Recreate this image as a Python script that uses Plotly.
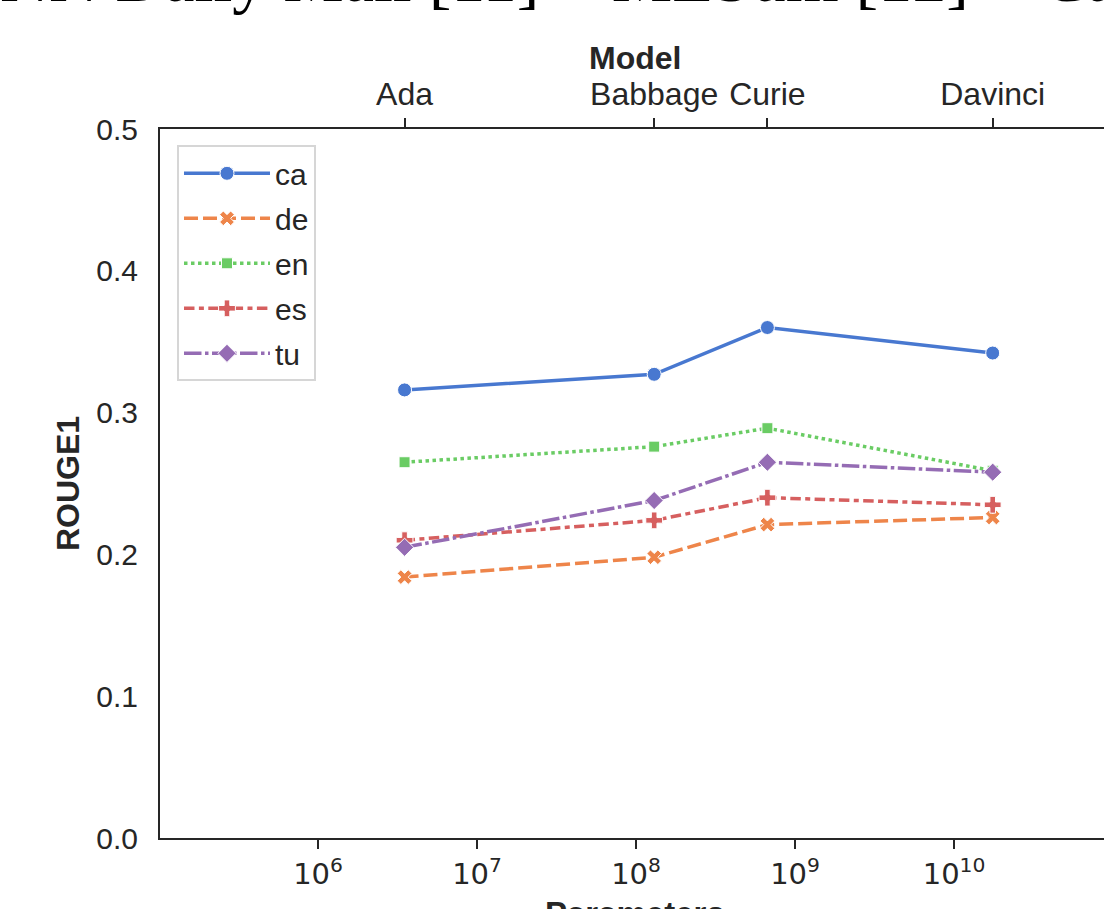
import plotly.graph_objects as go

# ---- data ----
models = ["Ada", "Babbage", "Curie", "Davinci"]
params = [3.5e6, 1.3e8, 6.7e8, 1.75e10]
langs = ["ca", "de", "en", "es", "tu"]
rouge_ca = [0.316, 0.327, 0.360, 0.342]
rouge_de = [0.184, 0.198, 0.221, 0.226]
rouge_en = [0.265, 0.276, 0.289, 0.259]
rouge_es = [0.210, 0.224, 0.240, 0.235]
rouge_tu = [0.205, 0.238, 0.265, 0.258]
series = [rouge_ca, rouge_de, rouge_en, rouge_es, rouge_tu]
xtick_vals = [1e6, 1e7, 1e8, 1e9, 1e10]
xtick_text = ["10<sup>6</sup>", "10<sup>7</sup>", "10<sup>8</sup>", "10<sup>9</sup>", "10<sup>10</sup>"]
ytick_vals = [0.0, 0.1, 0.2, 0.3, 0.4, 0.5]
title_text = "NN Daily Mail [11] + MLSum [12] + Ca"
x_title = "Parameters"
x2_title = "Model"
y_title = "ROUGE1"

# ---- styles ----
colors = ["#4878d0", "#ee854a", "#6acc64", "#d65f5f", "#956cb4"]
lw = 3.5
dashes = ["solid", "14px,5px", "3.5px,3.5px", "10.5px,4.4px,5px,4.4px", "17.5px,3.5px,3.5px,3.5px"]
symbols = ["circle", "x", "square", "cross", "diamond"]
msizes = [14, 13, 11, 14, 14]

SANS = "Liberation Sans, Arial, sans-serif"
AXC = "#262626"

fig = go.Figure()
for i, lang in enumerate(langs):
    fig.add_trace(go.Scatter(
        x=params, y=series[i], name=lang, mode="lines+markers",
        legendgroup=lang,
        line=dict(color=colors[i], width=lw, dash=dashes[i]),
        marker=dict(symbol=symbols[i], size=msizes[i], color=colors[i],
                    line=dict(color="white", width=1)),
    ))

# invisible trace on top axis so it renders
fig.add_trace(go.Scatter(x=params, y=rouge_ca, xaxis="x2", mode="markers",
                         marker=dict(opacity=0), showlegend=False, hoverinfo="skip"))

xr = [5.006, 10.943]
fig.update_layout(
    width=1104, height=909,
    margin=dict(l=160, r=0, t=129, b=71),
    paper_bgcolor="white", plot_bgcolor="white",
    font=dict(family=SANS, size=30, color=AXC),
    showlegend=True,
    legend=dict(x=0.018, y=0.977, xanchor="left", yanchor="top",
                bgcolor="rgba(255,255,255,0.8)", bordercolor="#d6d6d6", borderwidth=2,
                font=dict(family=SANS, size=30, color=AXC),
                itemwidth=86, tracegroupgap=3),
    xaxis=dict(type="log", range=xr, showline=True, linecolor=AXC, linewidth=2,
               ticks="outside", ticklen=9, tickwidth=2, tickcolor=AXC,
               tickvals=xtick_vals, ticktext=xtick_text,
               tickfont=dict(family="DejaVu Sans", size=29, color=AXC),
               showgrid=False, zeroline=False, automargin=False),
    xaxis2=dict(type="log", range=xr, overlaying="x", side="top", anchor="y",
                showline=True, linecolor=AXC, linewidth=2,
                ticks="outside", ticklen=9, tickwidth=2, tickcolor=AXC,
                tickvals=params, ticktext=models,
                tickfont=dict(family=SANS, size=32, color=AXC),
                showgrid=False, zeroline=False, automargin=False),
    yaxis=dict(range=[0, 0.5], showline=True, linecolor=AXC, linewidth=2,
               ticks="", tickvals=ytick_vals, tickformat=".1f",
               tickfont=dict(family=SANS, size=30, color=AXC),
               ticklabelstandoff=14,
               showgrid=False, zeroline=False,
               title=dict(text=y_title, font=dict(family=SANS, size=32, weight="bold"), standoff=7),
               automargin=False),
)

# axis titles placed as annotations (they sit partly outside the figure, as in the reference)
fig.add_annotation(text=x_title, xref="paper", yref="paper", x=0.503, y=-0.0776,
                   xanchor="center", yanchor="top", showarrow=False,
                   font=dict(family=SANS, size=33, weight="bold", color=AXC))
fig.add_annotation(text=x2_title, xref="paper", yref="paper", x=0.503, y=1.1001,
                   xanchor="center", yanchor="middle", showarrow=False,
                   font=dict(family=SANS, size=32, weight="bold", color=AXC))

fig.add_annotation(
    text=title_text, xref="paper", yref="paper",
    x=-0.1716, y=1.1566, xanchor="left", yanchor="bottom", showarrow=False,
    font=dict(family="Liberation Serif, Times New Roman, serif", size=68, color="black"),
)

fig.write_html("out.html", config={"displayModeBar": False},
               post_script="document.body.style.margin='0px'; document.body.style.overflow='hidden';")
